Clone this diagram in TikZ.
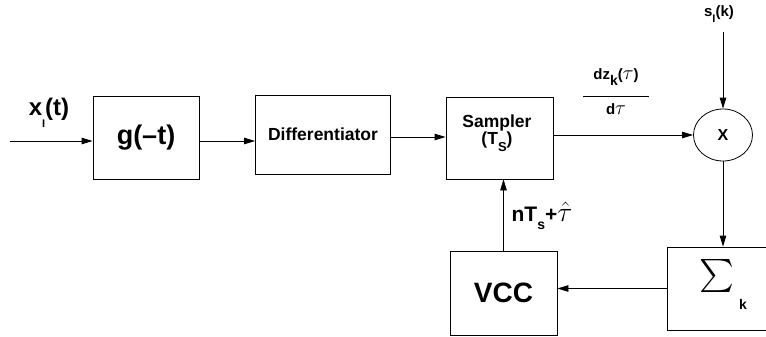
\documentclass[tikz,border=0pt]{standalone}
\usepackage{fontspec}
\setmainfont{Liberation Sans}
\usepackage{graphicx}
\usetikzlibrary{arrows.meta,shapes.geometric}
\newcommand{\fsz}[1]{\fontsize{#1}{#1}\selectfont\bfseries}
\begin{document}
\begin{tikzpicture}[x=1pt,y=-1pt,
  blk/.style 2 args={draw, line width=0.8pt, inner sep=0pt, minimum width=#1, minimum height=#2},
  wire/.style={line width=0.8pt, -{Triangle[length=11pt,width=6.5pt]}},
  lbl/.style={inner sep=0pt}]
\useasboundingbox (0,0) rectangle (766,337);
% blocks
\node[blk={106pt}{83pt}, font=\fsz{27}] (g) at (146,137.5) {g(--t)};
\node[blk={135pt}{79pt}, font=\fsz{17.5}] (d) at (323,134.5) {Differentiator};
\node[blk={107pt}{82pt}] (s) at (499.5,138) {};
\node[lbl, align=center, font=\fsz{17.5}] (stxt) at (497,133) {Sampler\\[0pt](T\raisebox{-0.35em}{\fsz{13}S})};
\node[draw, ellipse, line width=0.8pt, minimum width=59pt, minimum height=52pt, inner sep=0pt, font=\fsz{16}] (c) at (723,135) {X};
\node[blk={99pt}{83pt}] (sum) at (716.5,288.5) {};
\node[lbl] (sig) at (717,276) {\scalebox{3.3}{$\sum$}};
\node[lbl, font=\fsz{14}] (k) at (743,304) {k};
\node[blk={107pt}{84pt}, font=\fsz{28}] (v) at (503.5,293) {VCC};
% labels
\node[lbl, font=\fsz{24}] (xl) at (49,113) {x\raisebox{-0.5em}{\fsz{11}I}(t)};
\node[lbl, font=\fsz{15}] (sl) at (719,14) {s\raisebox{-0.35em}{\fsz{11}I}(k)};
\node[lbl, font=\fsz{15}] (num) at (616,77) {dz\raisebox{-0.4em}{\fsz{14}k}(\scalebox{1.4}{$\tau$})};
\node[lbl, font=\fsz{15}] (den) at (616,109) {d\scalebox{1.4}{$\tau$}};
\coordinate (fl) at (583,96);
\coordinate (fr) at (649,96);
\draw[line width=0.8pt] (fl) -- (fr);
\node[lbl, font=\fsz{21}] (nl) at (542,216) {nT\raisebox{-0.4em}{\fsz{14}s}+\scalebox{1.35}{$\hat{\tau}$}};
% connectors
\coordinate (in) at (10,141);
\coordinate (st) at (723,32);
\draw[wire] (in) -- (in -| g.west);
\draw[wire] ([yshift=-3.5pt]g.east) -- ([yshift=-3.5pt]g.east -| d.west);
\draw[wire] ([yshift=-2.5pt]d.east) -- ([yshift=-2.5pt]d.east -| s.west);
\draw[wire] (s.east |- c.west) -- (c.west);
\draw[wire] (st) -- (c.north);
\draw[wire] (c.south) -- (c.south |- sum.north);
\draw[wire] (sum.west) -- (sum.west -| v.east);
\draw[wire] (v.north) -- (v.north |- s.south);
\end{tikzpicture}
\end{document}
